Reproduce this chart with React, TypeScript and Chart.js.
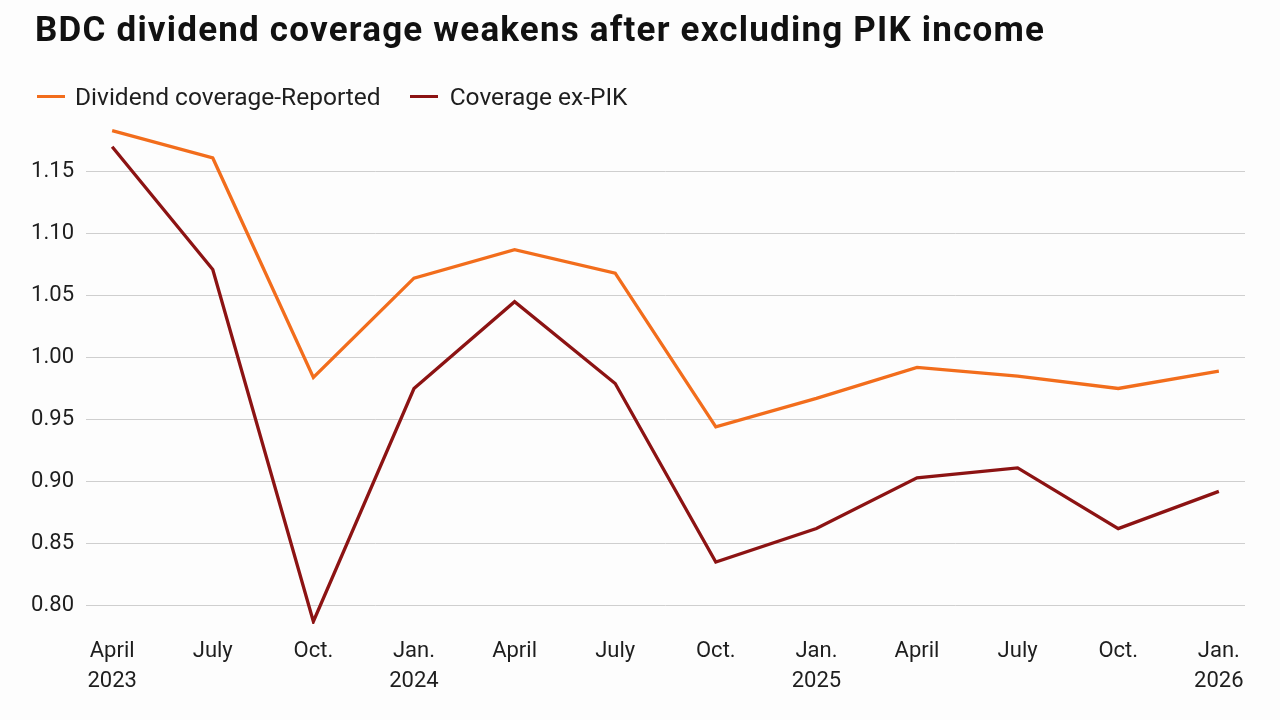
import React, { useEffect, useRef } from "react";
import { Chart, registerables } from "chart.js";

Chart.register(...registerables);

// Quarter labels (second line carries the year where it changes)
const quarterLabels: string[][] = [
  ["April", "2023"],
  ["July"],
  ["Oct."],
  ["Jan.", "2024"],
  ["April"],
  ["July"],
  ["Oct."],
  ["Jan.", "2025"],
  ["April"],
  ["July"],
  ["Oct."],
  ["Jan.", "2026"],
];

const reportedCoverage: number[] = [
  1.183, 1.161, 0.984, 1.064, 1.087, 1.068, 0.944, 0.967, 0.992, 0.985, 0.975, 0.989,
];

const exPikCoverage: number[] = [
  1.17, 1.071, 0.787, 0.975, 1.045, 0.979, 0.835, 0.862, 0.903, 0.911, 0.862, 0.892,
];

const yTickValues: number[] = [0.8, 0.85, 0.9, 0.95, 1.0, 1.05, 1.1, 1.15];

const ORANGE = "#f26d1c";
const DARK_RED = "#8c1313";
const FONT = "Roboto, 'Noto Sans', sans-serif";

export default function App() {
  const canvasRef = useRef<HTMLCanvasElement | null>(null);

  useEffect(() => {
    document.body.style.margin = "0";
    const canvas = canvasRef.current;
    if (!canvas) return;

    const toPoints = (arr: number[]) => arr.map((v, i) => ({ x: i, y: v }));

    const chart = new Chart(canvas, {
      type: "line",
      data: {
        datasets: [
          {
            label: "Dividend coverage-Reported",
            data: toPoints(reportedCoverage),
            borderColor: ORANGE,
            backgroundColor: ORANGE,
            borderWidth: 3.3,
            pointRadius: 0,
            tension: 0,
          },
          {
            label: "Coverage ex-PIK",
            data: toPoints(exPikCoverage),
            borderColor: DARK_RED,
            backgroundColor: DARK_RED,
            borderWidth: 3.3,
            pointRadius: 0,
            tension: 0,
          },
        ],
      },
      options: {
        animation: false,
        responsive: false,
        maintainAspectRatio: false,
        layout: { padding: { top: 122, right: 35, left: 0, bottom: 0 } },
        plugins: {
          legend: { display: false },
          tooltip: { enabled: false },
          title: { display: false },
        },
        scales: {
          x: {
            type: "linear",
            min: -0.26,
            max: 11.26,
            afterBuildTicks: (scale: any) => {
              scale.ticks = quarterLabels.map((_, i) => ({ value: i }));
            },
            afterFit: (scale: any) => {
              scale.height = 96;
            },
            grid: { display: false, drawTicks: false },
            border: { display: false },
            ticks: {
              autoSkip: false,
              maxRotation: 0,
              padding: 13,
              color: "#1e1e1e",
              font: { family: FONT, size: 22, lineHeight: 1.36 },
              callback: (value: any) => quarterLabels[Math.round(Number(value))] ?? "",
            },
          },
          y: {
            type: "linear",
            min: 0.785,
            max: 1.19,
            afterBuildTicks: (scale: any) => {
              scale.ticks = yTickValues.map((v) => ({ value: v }));
            },
            afterFit: (scale: any) => {
              scale.width = 86;
            },
            grid: { color: "#cfcfcf", lineWidth: 1, drawTicks: false },
            border: { display: false },
            ticks: {
              padding: 12,
              color: "#1e1e1e",
              font: { family: FONT, size: 22 },
              callback: (value: any) => Number(value).toFixed(2),
            },
          },
        },
      },
    });

    return () => chart.destroy();
  }, []);

  return (
    <div
      style={{
        position: "fixed",
        left: 0,
        top: 0,
        width: 1280,
        height: 720,
        background: "#fdfdfd",
        fontFamily: FONT,
        color: "#111",
        overflow: "hidden",
      }}
    >
      <canvas
        ref={canvasRef}
        width={1280}
        height={720}
        style={{ position: "absolute", left: 0, top: 0, width: 1280, height: 720 }}
      />
      <div
        style={{
          position: "absolute",
          left: 35,
          top: 9,
          fontSize: 35,
          fontWeight: 700,
          letterSpacing: 1.2,
          whiteSpace: "nowrap",
        }}
      >
        BDC dividend coverage weakens after excluding PIK income
      </div>
      <div
        style={{
          position: "absolute",
          left: 37,
          top: 82,
          display: "flex",
          alignItems: "center",
          fontSize: 24.5,
          color: "#1e1e1e",
          whiteSpace: "nowrap",
        }}
      >
        <span style={{ display: "inline-block", width: 28, height: 3.5, background: ORANGE, marginRight: 10 }} />
        <span style={{ marginRight: 29 }}>Dividend coverage-Reported</span>
        <span style={{ display: "inline-block", width: 28, height: 3.5, background: DARK_RED, marginRight: 12 }} />
        <span>Coverage ex-PIK</span>
      </div>
    </div>
  );
}
